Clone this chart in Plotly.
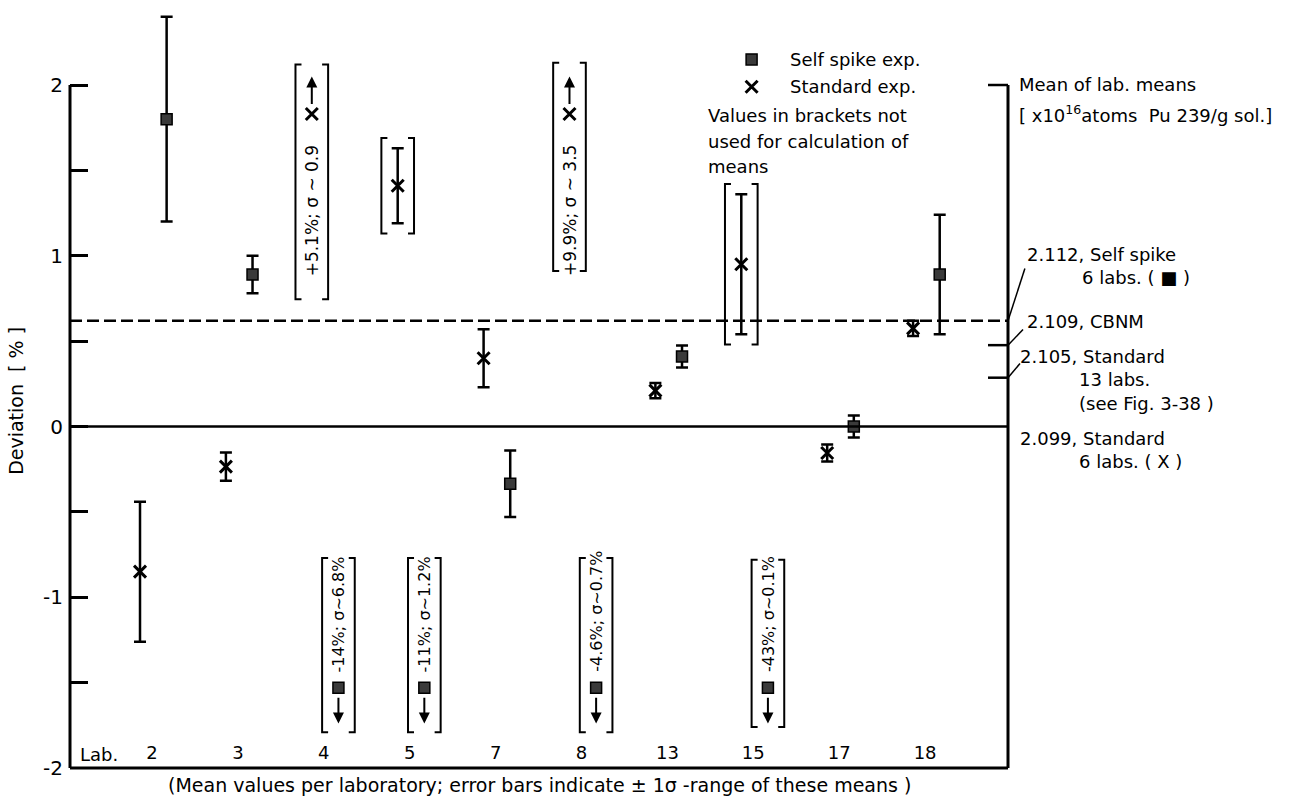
import plotly.graph_objects as go

# ---------------------------------------------------------------- data
labs = ["2", "3", "4", "5", "7", "8", "13", "15", "17", "18"]

# deviation of each laboratory mean [%] and its 1-sigma range
self_spike_dev = [1.80, 0.89, -14.0, -11.0, -0.335, -4.6, 0.41, -43.0, 0.0, 0.89]
self_spike_sd = [0.60, 0.11, 6.8, 1.2, 0.195, 0.7, 0.065, 0.1, 0.065, 0.35]
standard_dev = [-0.85, -0.235, 5.1, 1.41, 0.40, 9.9, 0.21, 0.95, -0.155, 0.575]
standard_sd = [0.41, 0.083, 0.9, 0.22, 0.17, 3.5, 0.045, 0.41, 0.05, 0.045]

# labs whose values are bracketed (not used for the means)
self_spike_excluded = ["4", "5", "8", "15"]
standard_excluded = ["4", "5", "8", "15"]

# means of lab means [x10^16 atoms Pu 239 / g sol.]
mean_values = [2.112, 2.109, 2.105, 2.099]
mean_names = ["Self spike", "CBNM", "Standard", "Standard"]
mean_notes = [["6 labs. ( \u25a0 )"], [], ["13 labs.", "(see Fig. 3-38 )"], ["6 labs. ( X )"]]
base_mean = 2.099

y_tick_vals = [-2, -1.5, -1, -0.5, 0, 0.5, 1, 1.5, 2]

# ---------------------------------------------------------------- layout constants
FONT = "DejaVu Sans"
XR = [-0.955, 9.965]
YR = [-2.0, 2.451]
STD_DX, SS_DX = -0.14, 0.17          # horizontal offset of the two series
CLIP_HI, CLIP_LO = 1.83, -1.53       # where off-scale values are parked
BR_HW, BR_SERIF = 0.19, 0.07         # bracket half width / serif length
OFFSCALE_BOX = {("4", "std"): (0.745, 2.12), ("8", "std"): (0.91, 2.13),
                ("4", "ss"): (-1.79, -0.77), ("5", "ss"): (-1.79, -0.77),
                ("8", "ss"): (-1.79, -0.77), ("15", "ss"): (-1.76, -0.78)}


def yp(y):
    return (y - YR[0]) / (YR[1] - YR[0])


mean_dev = [(m / base_mean - 1.0) * 100.0 for m in mean_values]

fig = go.Figure()
shapes, annos = [], []


def line(x0, y0, x1, y1, w=2.5, dash="solid", xref="paper", yref="paper"):
    shapes.append(dict(type="line", x0=x0, y0=y0, x1=x1, y1=y1, xref=xref, yref=yref,
                       line=dict(color="black", width=w, dash=dash)))


def text(x, y, s, size=18, xref="paper", yref="y", xanchor="left", yanchor="middle", angle=0):
    annos.append(dict(x=x, y=y, xref=xref, yref=yref, text=s, showarrow=False,
                      xanchor=xanchor, yanchor=yanchor, textangle=angle,
                      font=dict(family=FONT, size=size, color="black")))


SS_MARKER = dict(symbol="square", size=11, color="#3a3a3a", line=dict(color="black", width=1.5))
ST_MARKER = dict(symbol="x-thin", size=12, color="black", line=dict(color="black", width=3))
ERR = dict(type="data", thickness=2.5, width=6, color="black")

series = [
    ("ss", self_spike_dev, self_spike_sd, self_spike_excluded, SS_DX, SS_MARKER,
     "{:g}%; \u03c3~{:g}%", 16),
    ("std", standard_dev, standard_sd, standard_excluded, STD_DX, ST_MARKER,
     "{:+g}%; \u03c3 ~ {:g}", 17),
]

for key, dev, sd, excluded, dx, marker, fmt, note_size in series:
    on = [i for i, v in enumerate(dev) if CLIP_LO <= v <= CLIP_HI]
    off = [i for i, v in enumerate(dev) if not (CLIP_LO <= v <= CLIP_HI)]
    fig.add_trace(go.Scatter(
        x=[i + dx for i in on], y=[dev[i] for i in on], mode="markers", marker=marker,
        error_y=dict(ERR, array=[sd[i] for i in on]), cliponaxis=False, showlegend=False))
    fig.add_trace(go.Scatter(
        x=[i + dx for i in off], y=[min(max(dev[i], CLIP_LO), CLIP_HI) for i in off],
        mode="markers", marker=marker, cliponaxis=False, showlegend=False))

    # arrows and value notes for off-scale values
    for i in off:
        x = i + dx
        up = dev[i] > CLIP_HI
        y = CLIP_HI if up else CLIP_LO
        head, tail = (y + 0.22, y + 0.05) if up else (y - 0.21, y - 0.05)
        annos.append(dict(x=x, y=head, ax=x, ay=tail, xref="x", yref="y", axref="x", ayref="y",
                          text="", showarrow=True, arrowhead=2, arrowsize=1.1, arrowwidth=2,
                          arrowcolor="black"))
        label = fmt.format(dev[i], sd[i])
        if up:
            text(x, y - 0.17, label, size=note_size, xref="x", xanchor="center",
                 yanchor="top", angle=-90)
        else:
            text(x, y + 0.08, label, size=note_size, xref="x", xanchor="center",
                 yanchor="bottom", angle=-90)

    # brackets around values not used for the means
    for i, lab in enumerate(labs):
        if lab not in excluded:
            continue
        x = i + dx
        if (lab, key) in OFFSCALE_BOX:
            y0, y1 = OFFSCALE_BOX[(lab, key)]
        else:
            y0, y1 = dev[i] - sd[i] - 0.06, dev[i] + sd[i] + 0.06
        xl, xr = x - BR_HW, x + BR_HW
        for path in (f"M {xl + BR_SERIF},{y1} L {xl},{y1} L {xl},{y0} L {xl + BR_SERIF},{y0}",
                     f"M {xr - BR_SERIF},{y1} L {xr},{y1} L {xr},{y0} L {xr - BR_SERIF},{y0}"):
            shapes.append(dict(type="path", path=path, xref="x", yref="y",
                               line=dict(color="black", width=2)))

# lab numbers along the bottom
fig.add_trace(go.Scatter(x=list(range(len(labs))), y=[-1.92] * len(labs), text=labs,
                         mode="text", textfont=dict(family=FONT, size=18, color="black"),
                         cliponaxis=False, showlegend=False))
text(-0.62, -1.92, "Lab.", xref="x", xanchor="center")

# frame: left, bottom and right axis lines
line(0, yp(-2), 0, yp(2), w=3)
line(0, 0, 1, 0, w=3)
line(1, 0, 1, yp(2.0), w=3)
line(1 - 0.0213, yp(2.0), 1, yp(2.0), w=2.5)

# mean lines: self spike (dashed) and standard 6 labs (solid)
line(0, yp(mean_dev[0]), 1, yp(mean_dev[0]), w=2.5, dash="12px,5px")
line(0, yp(mean_dev[3]), 1, yp(mean_dev[3]), w=2.5)
# right-axis ticks for CBNM and standard 13 labs
for d in mean_dev[1:3]:
    line(1 - 0.0213, yp(d), 1, yp(d), w=2.5)

# mean labels on the right with leader lines
label_pos = [(1.018, 1.007), (1.018, 0.615), (1.0107, 0.41), (1.0107, -0.07)]
note_x = [1.0768, None, 1.0736, 1.0736]
leader_end = [(1.018, 0.925), (1.016, 0.568), (1.0128, 0.369)]
for k, (m, name) in enumerate(zip(mean_values, mean_names)):
    lx, ly = label_pos[k]
    text(lx, ly, f"{m:.3f}, {name}", size=18)
    for j, note in enumerate(mean_notes[k]):
        text(note_x[k], ly - 0.137 * (j + 1), note, size=18)
    if k < len(leader_end):
        ex, ey = leader_end[k]
        line(1, yp(mean_dev[k]), ex, yp(ey), w=1.5)

text(1.0096, 2.003, "Mean of lab. means", size=18)
text(1.0096, 1.833, "[ x10<sup>16</sup>atoms  Pu 239/g sol.]", size=18)

# key
fig.add_trace(go.Scatter(x=[6.98], y=[2.15], mode="markers", marker=SS_MARKER,
                         cliponaxis=False, showlegend=False))
fig.add_trace(go.Scatter(x=[6.98], y=[1.99], mode="markers", marker=ST_MARKER,
                         cliponaxis=False, showlegend=False))
text(7.40, 2.15, "Self spike exp.", xref="x")
text(7.40, 1.99, "Standard exp.", xref="x")
text(6.45, 1.82, "Values in brackets not", xref="x")
text(6.45, 1.67, "used for calculation of", xref="x")
text(6.45, 1.52, "means", xref="x")

# axis titles
text(-0.0576, 0.15, "Deviation  [ % ]", size=19, xanchor="center", angle=-90)
annos.append(dict(x=0.501, y=-0.022, xref="paper", yref="paper", showarrow=False,
                  text="(Mean values per laboratory; error bars indicate \u00b1 1\u03c3 -range of these means )",
                  xanchor="center", yanchor="middle",
                  font=dict(family=FONT, size=19, color="black")))

fig.update_layout(
    width=1298, height=800,
    margin=dict(l=70, r=290, t=8, b=32),
    paper_bgcolor="white", plot_bgcolor="white",
    font=dict(family=FONT, size=18, color="black"),
    shapes=shapes, annotations=annos, showlegend=False,
    xaxis=dict(range=XR, visible=False, showgrid=False, zeroline=False),
    yaxis=dict(range=YR, tickvals=y_tick_vals,
               ticktext=[f"{v:g}" if float(v).is_integer() else "" for v in y_tick_vals],
               ticks="inside", ticklen=18, tickwidth=2.5, tickcolor="black",
               ticklabelstandoff=6,
               showgrid=False, zeroline=False, showline=False,
               tickfont=dict(family=FONT, size=20, color="black")),
)

fig.write_html("out.html")
